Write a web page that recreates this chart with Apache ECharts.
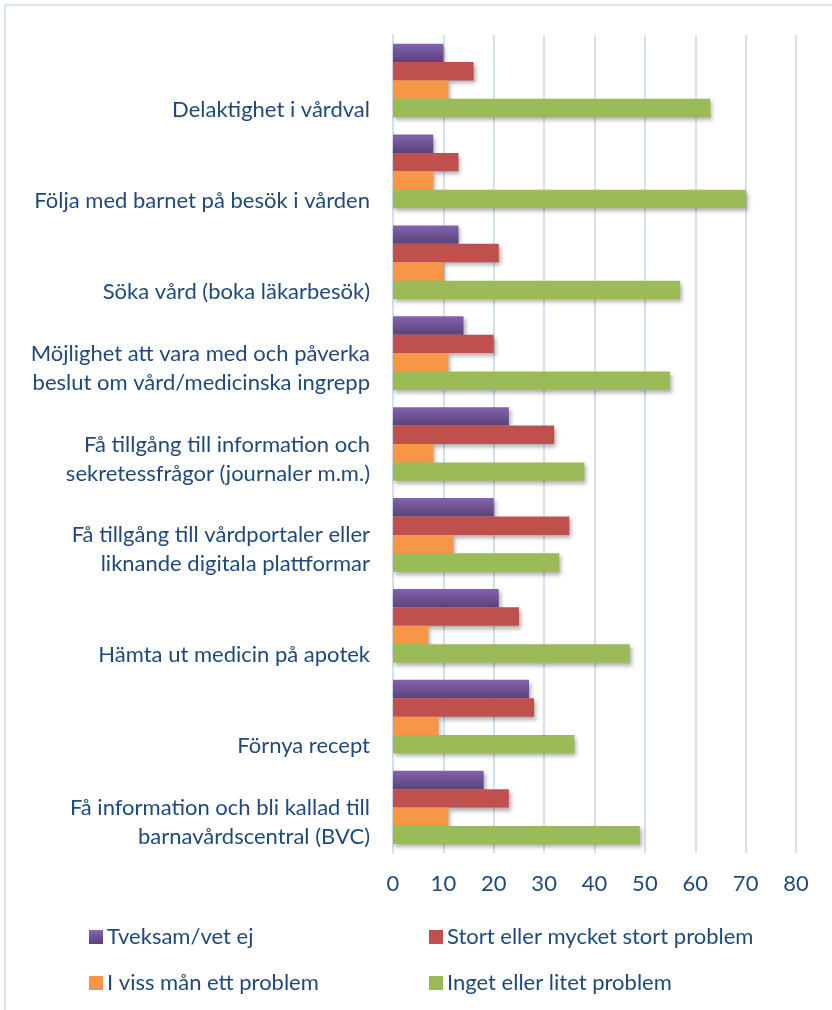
<!DOCTYPE html>
<html lang="sv">
<head>
<meta charset="utf-8" />
<title>Problem i vården</title>
<style>
  html, body { margin: 0; padding: 0; background: #ffffff; }
  #main { width: 832px; height: 1010px; }
</style>
</head>
<body>
<div id="main"></div>
<script src="https://cdn.jsdelivr.net/npm/echarts@6/dist/echarts.min.js"></script>
<script>
// kategorier, uppifrån och ned
var categories = [
  'Delaktighet i vårdval',
  'Följa med barnet på besök i vården',
  'Söka vård (boka läkarbesök)',
  'Möjlighet att vara med och påverka\nbeslut om vård/medicinska ingrepp',
  'Få tillgång till information och\nsekretessfrågor (journaler m.m.)',
  'Få tillgång till vårdportaler eller\nliknande digitala plattformar',
  'Hämta ut medicin på apotek',
  'Förnya recept',
  'Få information och bli kallad till\nbarnavårdscentral (BVC)'
];
var seriesNames = [
  'Tveksam/vet ej',
  'Stort eller mycket stort problem',
  'I viss mån ett problem',
  'Inget eller litet problem'
];
var tveksam  = [10, 8, 13, 14, 23, 20, 21, 27, 18];
var stort    = [16, 13, 21, 20, 32, 35, 25, 28, 23];
var vissMan  = [11, 8, 10, 11, 8, 12, 7, 9, 11];
var inget    = [63, 70, 57, 55, 38, 33, 47, 36, 49];
var xTicks   = [0, 80, 10]; // min, max, steg

var textBlue = '#1F497D';
var gridBlue = '#D4E0F0';
var font = 'Lato';
var fsize = 22;

var colors = [
  new echarts.graphic.LinearGradient(0, 0, 0, 1, [
    { offset: 0, color: '#8363AE' },
    { offset: 1, color: '#5B4279' }
  ]),
  '#C0504D',
  '#F79646',
  '#9BBB59'
];
var values = [tveksam, stort, vissMan, inget];

var chart = echarts.init(document.getElementById('main'), null, { renderer: 'canvas' });

var series = seriesNames.map(function (name, i) {
  return {
    name: name,
    type: 'bar',
    data: values[i],
    barGap: '0%',
    barCategoryGap: '19%',
    itemStyle: {
      color: colors[i],
      shadowBlur: 4,
      shadowOffsetX: 2,
      shadowOffsetY: 3,
      shadowColor: 'rgba(0,0,0,0.3)'
    },
    emphasis: { disabled: true }
  };
});

// en legend per post, två kolumner
var legendPos = [[89, 926], [429, 926], [89, 972], [429, 972]];
var legends = seriesNames.map(function (name, i) {
  return {
    data: [name],
    left: legendPos[i][0],
    top: legendPos[i][1],
    padding: 0,
    itemWidth: 14,
    itemHeight: 14,
    itemGap: 4,
    icon: 'rect',
    itemStyle: { shadowBlur: 0, shadowOffsetX: 0, shadowOffsetY: 0 },
    selectedMode: false,
    textStyle: { color: textBlue, fontSize: fsize, lineHeight: 22, fontFamily: font, padding: [0, 0, 0, -1] }
  };
});

var option = {
  backgroundColor: '#ffffff',
  animation: false,
  graphic: [{
    type: 'rect',
    shape: { x: 5, y: 5, width: 900, height: 1100 },
    style: { fill: 'none', stroke: '#DBE5F2', lineWidth: 2 },
    silent: true
  }],
  legend: legends,
  grid: { left: 393, right: 36, top: 35, bottom: 157, containLabel: false },
  xAxis: {
    type: 'value',
    min: xTicks[0],
    max: xTicks[1],
    interval: xTicks[2],
    axisLine: { show: false },
    axisTick: { show: false },
    splitLine: { lineStyle: { color: gridBlue, width: 2 } },
    axisLabel: { color: textBlue, fontSize: fsize, fontFamily: font, margin: 20 }
  },
  yAxis: {
    type: 'category',
    inverse: true,
    data: categories,
    axisLine: { lineStyle: { color: gridBlue, width: 2 } },
    axisTick: { show: false },
    axisLabel: {
      interval: 0,
      color: textBlue,
      fontSize: fsize,
      fontFamily: font,
      lineHeight: 29,
      margin: 23,
      align: 'right',
      verticalAlign: 'bottom',
      padding: [0, 0, -44, 0]
    }
  },
  series: series
};

chart.setOption(option);
</script>
</body>
</html>
